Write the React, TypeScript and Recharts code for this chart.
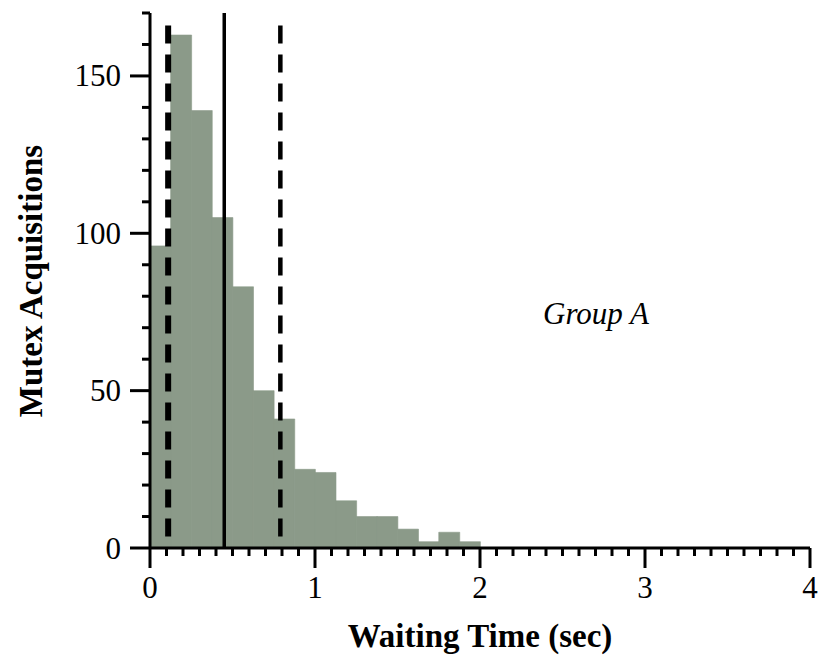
import React from 'react';
import { ComposedChart, Bar, XAxis, YAxis, ReferenceLine } from 'recharts';

// Histogram of mutex waiting times, 0.125 s bins
const binEdges = [0, 0.125, 0.25, 0.375, 0.5, 0.625, 0.75, 0.875, 1, 1.125, 1.25, 1.375, 1.5, 1.625, 1.75, 1.875, 2];
const counts = [96, 163, 139, 105, 83, 50, 41, 25, 24, 15, 10, 10, 6, 2, 5, 2];

// Axis ticks
const xMajorTicks = [0, 1, 2, 3, 4];
const yMajorTicks = [0, 50, 100, 150];
const X_MAX = 4;
const Y_MAX = 170;
const X_MINOR_STEP = 0.1;
const Y_MINOR_STEP = 10;

// Summary markers (seconds)
const lowerMark = 0.11;
const meanMark = 0.45;
const upperMark = 0.79;
const dashedTop = 166;

const groupLabel = 'Group A';
const xTitle = 'Waiting Time (sec)';
const yTitle = 'Mutex Acquisitions';

const BAR_COLOR = '#8b9a89';

const data = counts.map((count, i) => ({
  mid: (binEdges[i] + binEdges[i + 1]) / 2,
  count,
}));

const xTicks = Array.from({ length: Math.round(X_MAX / X_MINOR_STEP) + 1 }, (_, i) =>
  Math.round(i * X_MINOR_STEP * 10) / 10
);
const yTicks = Array.from({ length: Math.round(Y_MAX / Y_MINOR_STEP) + 1 }, (_, i) => i * Y_MINOR_STEP);

const FONT = '"Liberation Serif", "Times New Roman", serif';

const XTick = (props: any) => {
  const { x, y, payload } = props;
  const v = payload.value;
  const major = xMajorTicks.includes(v);
  return (
    <g>
      <line x1={x} x2={x} y1={y} y2={y + (major ? 20 : 8)} stroke="#000" strokeWidth={3} />
      {major && (
        <text x={x} y={y + 50} textAnchor="middle" fontSize={31} fontFamily={FONT} fill="#000">
          {v}
        </text>
      )}
    </g>
  );
};

const YTick = (props: any) => {
  const { x, y, payload } = props;
  const v = payload.value;
  const major = yMajorTicks.includes(v);
  return (
    <g>
      <line x1={x - (major ? 20 : 8)} x2={x} y1={y} y2={y} stroke="#000" strokeWidth={3} />
      {major && (
        <text x={x - 29} y={y + 10.5} textAnchor="end" fontSize={31} fontFamily={FONT} fill="#000">
          {v}
        </text>
      )}
    </g>
  );
};

export default function App() {
  return (
    <div style={{ position: 'absolute', left: 0, top: 0, width: 823, height: 657, background: '#fff' }}>
      <ComposedChart
        width={823}
        height={657}
        data={data}
        margin={{ top: 13, right: 13, bottom: 0, left: 0 }}
        barCategoryGap={0}
        barGap={0}
      >
        <XAxis
          type="number"
          dataKey="mid"
          domain={[0, X_MAX]}
          ticks={xTicks}
          interval={0}
          tickSize={0}
          tickMargin={0}
          tickLine={false}
          tick={<XTick />}
          axisLine={{ stroke: '#000', strokeWidth: 3 }}
          height={109}
          allowDataOverflow
        />
        <YAxis
          type="number"
          domain={[0, Y_MAX]}
          ticks={yTicks}
          interval={0}
          tickSize={0}
          tickMargin={0}
          tickLine={false}
          tick={<YTick />}
          axisLine={{ stroke: '#000', strokeWidth: 3 }}
          width={150}
          allowDataOverflow
        />
        <Bar dataKey="count" fill={BAR_COLOR} stroke={BAR_COLOR} strokeWidth={0.6} isAnimationActive={false} />
        <ReferenceLine
          segment={[{ x: lowerMark, y: dashedTop }, { x: lowerMark, y: 0 }]}
          stroke="#000"
          strokeWidth={6}
          strokeDasharray="18 11"
        />
        <ReferenceLine x={meanMark} stroke="#000" strokeWidth={3.5} />
        <ReferenceLine
          segment={[{ x: upperMark, y: dashedTop }, { x: upperMark, y: 0 }]}
          stroke="#000"
          strokeWidth={4.5}
          strokeDasharray="18 11"
        />
      </ComposedChart>
      <svg
        width={823}
        height={657}
        style={{ position: 'absolute', left: 0, top: 0, pointerEvents: 'none' }}
      >
        <text x={596} y={324} textAnchor="middle" fontSize={31} fontStyle="italic" fontFamily={FONT} fill="#000">
          {groupLabel}
        </text>
        <text x={480} y={647} textAnchor="middle" fontSize={33} fontWeight="bold" fontFamily={FONT} fill="#000">
          {xTitle}
        </text>
        <text
          x={42}
          y={281}
          transform="rotate(-90 42 281)"
          textAnchor="middle"
          fontSize={33}
          fontWeight="bold"
          fontFamily={FONT}
          fill="#000"
        >
          {yTitle}
        </text>
      </svg>
    </div>
  );
}
